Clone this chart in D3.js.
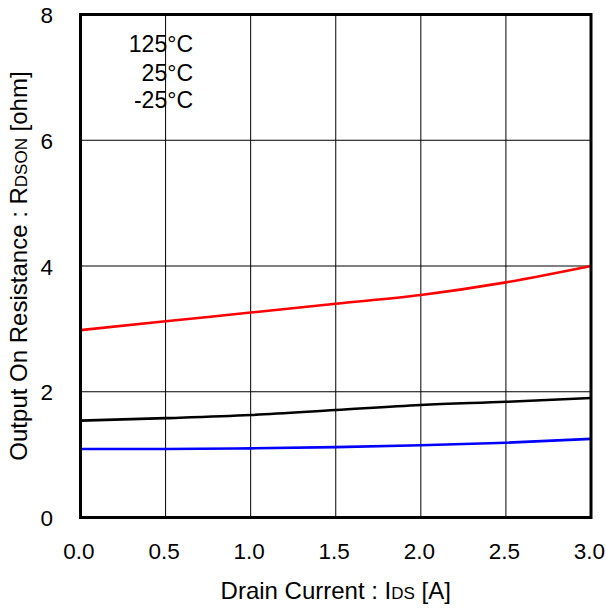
<!DOCTYPE html>
<html>
<head>
<meta charset="utf-8">
<script src="https://cdn.jsdelivr.net/npm/d3@7"></script>
<style>
  html, body { margin: 0; padding: 0; background: #fff; }
  svg { display: block; }
  text { font-family: "Liberation Sans", Arial, sans-serif; fill: #000; }
</style>
</head>
<body>
<svg id="chart" width="606" height="608"></svg>
<script>
// ---- data ----
const currents = [0.0, 0.5, 1.0, 1.5, 2.0, 2.5, 3.0];
const r125 = [2.98, 3.12, 3.26, 3.40, 3.54, 3.74, 4.0];
const r25 = [1.54, 1.58, 1.63, 1.71, 1.79, 1.84, 1.90];
const rm25 = [1.09, 1.09, 1.10, 1.12, 1.15, 1.19, 1.25];
const seriesNames = ["125°C", "25°C", "-25°C"];
const seriesColors = ["#ff0000", "#000000", "#0000ff"];
const xTicks = [0.0, 0.5, 1.0, 1.5, 2.0, 2.5, 3.0];
const yTicks = [0, 2, 4, 6, 8];

const svg = d3.select("#chart");
const x = d3.scaleLinear().domain([0, 3]).range([80.5, 591]);
const y = d3.scaleLinear().domain([0, 8]).range([517.5, 14.5]);

// grid
const grid = svg.append("g");
grid.selectAll("line.v").data(xTicks.slice(1, -1)).enter().append("line")
  .attr("x1", d => x(d)).attr("x2", d => x(d))
  .attr("y1", y(0)).attr("y2", y(8))
  .attr("stroke", "#000").attr("stroke-width", 1);
grid.selectAll("line.h").data(yTicks.slice(1, -1)).enter().append("line")
  .attr("x1", x(0)).attr("x2", x(3))
  .attr("y1", d => y(d)).attr("y2", d => y(d))
  .attr("stroke", "#000").attr("stroke-width", 1);

// series
const allSeries = [r125, r25, rm25];
const line = d3.line().x((d, i) => x(currents[i])).y(d => y(d)).curve(d3.curveMonotoneX);
allSeries.forEach((s, k) => {
  svg.append("path").datum(s).attr("d", line)
    .attr("fill", "none").attr("stroke", seriesColors[k]).attr("stroke-width", 2.6);
});

// frame
svg.append("rect").attr("x", x(0)).attr("y", y(8))
  .attr("width", x(3) - x(0)).attr("height", y(0) - y(8))
  .attr("fill", "none").attr("stroke", "#000").attr("stroke-width", 3);

// axes tick labels
const xAxis = d3.axisBottom(x).tickValues(xTicks).tickFormat(d3.format(".1f")).tickSize(0).tickPadding(0);
const gx = svg.append("g").attr("transform", `translate(-2,${y(0)})`).call(xAxis);
gx.select(".domain").remove();
gx.selectAll("text").attr("font-size", 22.5).attr("dy", 0).attr("y", 41.5)
  .style("font-family", '"Liberation Sans", Arial, sans-serif');

const yAxis = d3.axisLeft(y).tickValues(yTicks).tickFormat(d3.format("d")).tickSize(0).tickPadding(0);
const gy = svg.append("g").attr("transform", `translate(53,0)`).call(yAxis);
gy.select(".domain").remove();
gy.selectAll("text").attr("font-size", 22.5).attr("x", 0).attr("dy", "0.36em")
  .style("font-family", '"Liberation Sans", Arial, sans-serif');

// legend (text only)
const legBase = [52, 80.5, 108];
seriesNames.forEach((n, i) => {
  svg.append("text").attr("x", 193).attr("y", legBase[i]).attr("text-anchor", "end")
    .attr("font-size", 23).text(n);
});

// x title
const xt = svg.append("text").attr("x", (x(0) + x(3)) / 2).attr("y", 599)
  .attr("text-anchor", "middle").attr("font-size", 24);
xt.append("tspan").text("Drain Current : I");
xt.append("tspan").attr("font-size", 17).text("DS");
xt.append("tspan").text(" [A]");

// y title
const yt = svg.append("text")
  .attr("transform", `translate(27,${(y(0) + y(8)) / 2}) rotate(-90)`)
  .attr("text-anchor", "middle").attr("font-size", 24);
yt.append("tspan").text("Output On Resistance : R");
yt.append("tspan").attr("font-size", 17).text("DSON");
yt.append("tspan").text(" [ohm]");
</script>
</body>
</html>
